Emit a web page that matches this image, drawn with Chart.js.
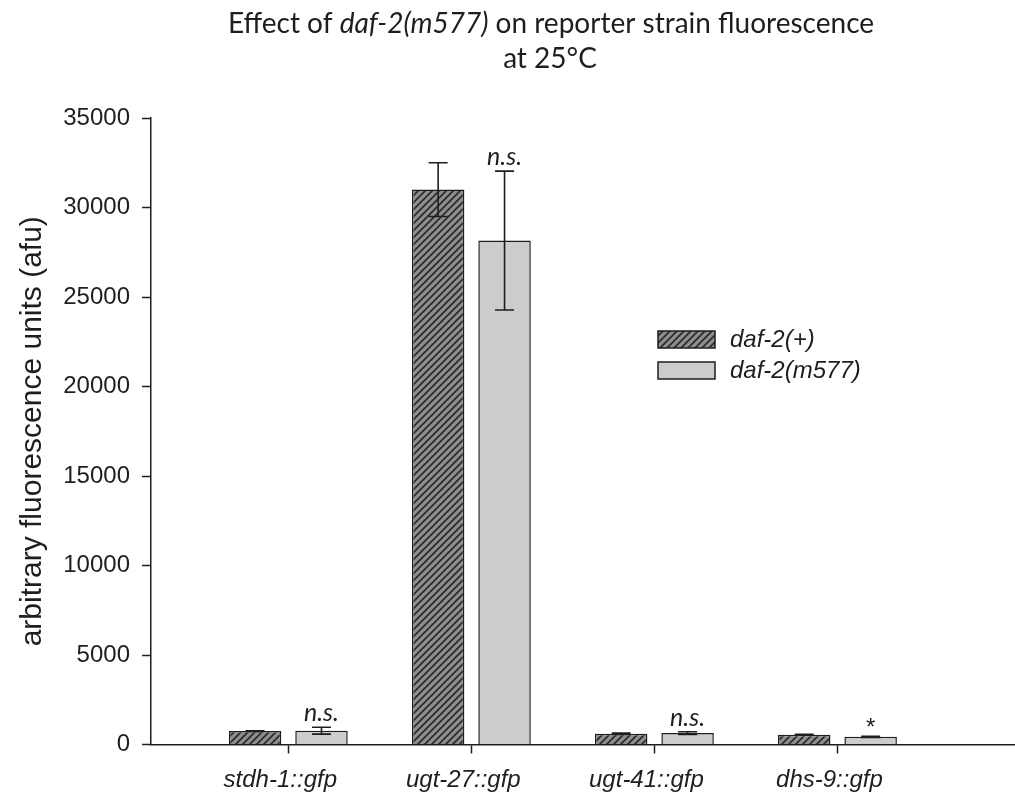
<!DOCTYPE html>
<html>
<head>
<meta charset="utf-8">
<script src="https://cdn.jsdelivr.net/npm/chart.js@4.4.1/dist/chart.umd.min.js"></script>
<style>
  html, body { margin: 0; padding: 0; background: #ffffff; }
  #wrap { width: 1015px; height: 793px; position: relative; }
</style>
</head>
<body>
<div id="wrap"><canvas id="chart" width="1015" height="793"></canvas></div>
<script>
// Reporter strains on the x axis
const categories = ['stdh-1::gfp', 'ugt-27::gfp', 'ugt-41::gfp', 'dhs-9::gfp'];
// Mean fluorescence (afu) and error for each genotype
const wildTypeMeans = [750, 31000, 600, 545];
const wildTypeErrors = [20, 1500, 40, 20];
const mutantMeans = [770, 28150, 640, 430];
const mutantErrors = [190, 3880, 75, 30];
// Significance of daf-2(m577) vs daf-2(+)
const significance = ['n.s.', 'n.s.', 'n.s.', '*'];
// Y axis ticks
const yTicks = [0, 5000, 10000, 15000, 20000, 25000, 30000, 35000];
const seriesNames = ['daf-2(+)', 'daf-2(m577)'];

const INK = '#1e1e1e';
const TITLE_FONT = 'Lato, "Open Sans", sans-serif';
const ARIAL = '"Liberation Sans", Arial, sans-serif';

// diagonal hatch for the wild-type bars
function makeHatch() {
  const s = 7;
  const c = document.createElement('canvas');
  c.width = s; c.height = s;
  const g = c.getContext('2d');
  g.fillStyle = '#8e8e8e';
  g.fillRect(0, 0, s, s);
  g.strokeStyle = '#2b2b2b';
  g.lineWidth = 1.7;
  g.beginPath();
  g.moveTo(-1, s + 1); g.lineTo(s + 1, -1);
  g.moveTo(-1, 1); g.lineTo(1, -1);
  g.moveTo(s - 1, s + 1); g.lineTo(s + 1, s - 1);
  g.stroke();
  return document.getElementById('chart').getContext('2d').createPattern(c, 'repeat');
}
const hatch = makeHatch();
const mutantFill = '#cccccc';

const toPoints = arr => arr.map((v, i) => ({ x: i + 1, y: v }));

// title with italic gene name
const titlePlugin = {
  id: 'twoLineTitle',
  afterDraw(chart) {
    const ctx = chart.ctx;
    ctx.save();
    ctx.fillStyle = INK;
    ctx.textBaseline = 'alphabetic';
    const size = 28;
    const parts = [
      { t: 'Effect of ', it: false },
      { t: 'daf-2(m577)', it: true },
      { t: ' on reporter strain fluorescence', it: false }
    ];
    const fontFor = it => (it ? 'italic ' : '') + size + 'px ' + TITLE_FONT;
    let total = 0;
    parts.forEach(p => { ctx.font = fontFor(p.it); p.w = ctx.measureText(p.t).width; total += p.w; });
    let x = 551 - total / 2;
    ctx.textAlign = 'left';
    parts.forEach(p => { ctx.font = fontFor(p.it); ctx.fillText(p.t, x, 33); x += p.w; });
    ctx.textAlign = 'center';
    ctx.font = fontFor(false);
    ctx.fillText('at 25\u00B0C', 550, 68);
    ctx.restore();
  }
};

// error bars and significance marks
const errorPlugin = {
  id: 'errorBars',
  afterDatasetsDraw(chart) {
    const ctx = chart.ctx;
    const y = chart.scales.y;
    const errs = [wildTypeErrors, mutantErrors];
    const means = [wildTypeMeans, mutantMeans];
    ctx.save();
    ctx.strokeStyle = INK;
    ctx.lineWidth = 1.6;
    chart.data.datasets.forEach((ds, d) => {
      const meta = chart.getDatasetMeta(d);
      meta.data.forEach((bar, i) => {
        const m = means[d][i], e = errs[d][i];
        const yt = y.getPixelForValue(m + e);
        const yb = y.getPixelForValue(m - e);
        const x = bar.x;
        ctx.beginPath();
        ctx.moveTo(x, yt); ctx.lineTo(x, yb);
        ctx.moveTo(x - 9.5, yt); ctx.lineTo(x + 9.5, yt);
        ctx.moveTo(x - 9.5, yb); ctx.lineTo(x + 9.5, yb);
        ctx.stroke();
      });
    });
    // marks above the mutant bars
    const meta = chart.getDatasetMeta(1);
    ctx.fillStyle = INK;
    ctx.textAlign = 'center';
    ctx.textBaseline = 'alphabetic';
    meta.data.forEach((bar, i) => {
      const top = y.getPixelForValue(mutantMeans[i] + mutantErrors[i]);
      const s = significance[i];
      if (s === '*') {
        ctx.font = '24px ' + ARIAL;
        ctx.fillText(s, bar.x, top - 1);
      } else {
        ctx.font = 'italic 25px ' + TITLE_FONT;
        ctx.fillText(s, bar.x, top - 6);
      }
    });
    ctx.restore();
  }
};

// legend boxes inside the plot
const legendPlugin = {
  id: 'boxLegend',
  afterDraw(chart) {
    const ctx = chart.ctx;
    ctx.save();
    chart.data.datasets.forEach((ds, d) => {
      const top = 331 + d * 31;
      ctx.fillStyle = ds.backgroundColor;
      ctx.fillRect(658, top, 57, 17);
      ctx.strokeStyle = INK;
      ctx.lineWidth = 1.5;
      ctx.strokeRect(658, top, 57, 17);
      ctx.fillStyle = INK;
      ctx.font = 'italic 24px ' + ARIAL;
      ctx.textAlign = 'left';
      ctx.textBaseline = 'middle';
      ctx.fillText(seriesNames[d], 730, top + 9);
    });
    ctx.restore();
  }
};

new Chart(document.getElementById('chart'), {
  type: 'bar',
  data: {
    datasets: [
      {
        label: seriesNames[0],
        data: toPoints(wildTypeMeans),
        backgroundColor: hatch,
        borderColor: INK,
        borderWidth: 1.5,
        categoryPercentage: 0.7256,
        barPercentage: 0.79
      },
      {
        label: seriesNames[1],
        data: toPoints(mutantMeans),
        backgroundColor: mutantFill,
        borderColor: INK,
        borderWidth: 1.5,
        categoryPercentage: 0.7256,
        barPercentage: 0.79
      }
    ]
  },
  options: {
    responsive: false,
    animation: false,
    devicePixelRatio: 1,
    layout: { padding: { top: 118, right: 0, bottom: 0, left: 0 } },
    plugins: {
      legend: { display: false },
      title: { display: false },
      tooltip: { enabled: false }
    },
    scales: {
      x: {
        type: 'linear',
        offset: false,
        min: 0.25,
        max: 4.97,
        afterBuildTicks: s => { s.ticks = categories.map((c, i) => ({ value: i + 1 })); },
        afterFit: s => { s.height = 48.5; },
        ticks: {
          callback: v => categories[v - 1] || '',
          font: { family: ARIAL, size: 24, style: 'italic' },
          color: INK,
          padding: 12,
          labelOffset: -8,
          maxRotation: 0,
          autoSkip: false
        },
        grid: { offset: false, drawOnChartArea: false, drawTicks: true, tickLength: 9, tickColor: INK, tickWidth: 1.5 },
        border: { display: true, color: INK, width: 1.5 }
      },
      y: {
        min: 0,
        max: 35000,
        afterBuildTicks: s => { s.ticks = yTicks.map(v => ({ value: v })); },
        afterFit: s => { s.width = 151; },
        ticks: {
          font: { family: ARIAL, size: 24 },
          color: INK,
          padding: 12,
          callback: v => String(v)
        },
        grid: { drawOnChartArea: false, drawTicks: true, tickLength: 9, tickColor: INK, tickWidth: 1.5 },
        border: { display: true, color: INK, width: 1.5 },
        title: {
          display: true,
          text: 'arbitrary fluorescence units (afu)',
          font: { family: ARIAL, size: 30 },
          color: INK,
          padding: { top: 15, bottom: 0 }
        }
      }
    }
  },
  plugins: [titlePlugin, errorPlugin, legendPlugin]
});
</script>
</body>
</html>
